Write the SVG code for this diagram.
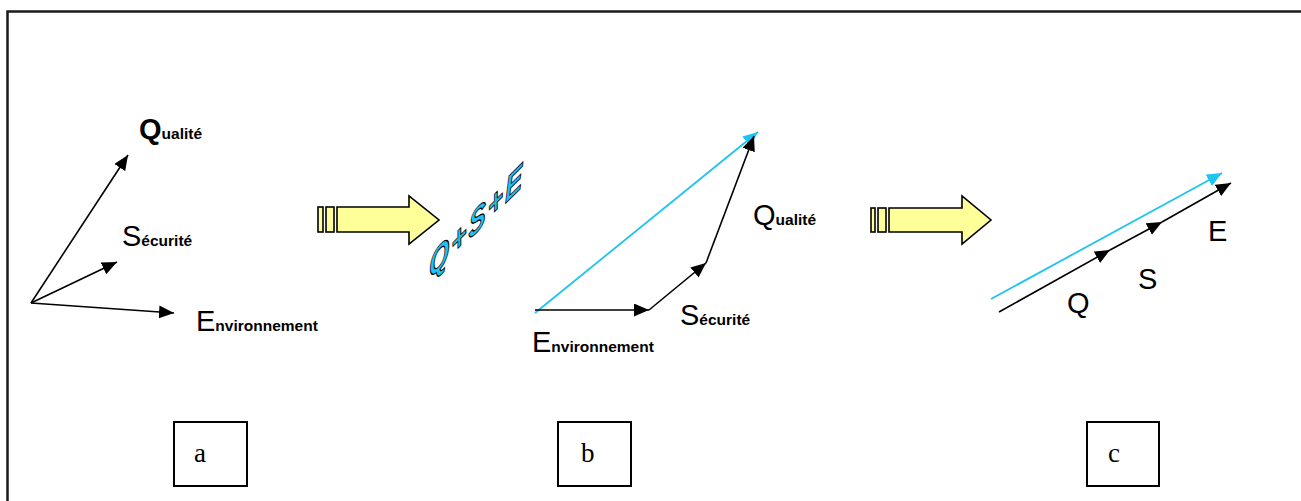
<svg xmlns="http://www.w3.org/2000/svg" width="1301" height="501" viewBox="0 0 1301 501">
<style>
.big{font-family:"Liberation Sans",Arial,sans-serif;font-size:29px;fill:#000}
.sm{font-family:"Liberation Sans",Arial,sans-serif;font-size:15.5px;font-weight:bold;fill:#000}
.lbl{font-family:"Liberation Serif","Times New Roman",serif;font-size:27px;fill:#000}
.vec{stroke:#000;stroke-width:1.6;fill:none;marker-end:url(#ah)}
.cy{stroke:#1EC3F0;stroke-width:1.8;fill:none;marker-end:url(#ahc)}
.box{fill:#fff;stroke:#000;stroke-width:2}
.ya{fill:#FFFF99;stroke:#000;stroke-width:1.6;stroke-linejoin:miter}
</style>
<defs>
<marker id="ah" markerUnits="userSpaceOnUse" markerWidth="16" markerHeight="14" refX="15" refY="6.5" orient="auto"><path d="M0,0 L15,6.5 L0,13 z" fill="#000"/></marker>
<marker id="ahc" markerUnits="userSpaceOnUse" markerWidth="16" markerHeight="14" refX="15" refY="6.5" orient="auto"><path d="M0,0 L15,6.5 L0,13 z" fill="#1EC3F0"/></marker>
</defs>
<rect x="7.5" y="11.5" width="1310" height="510" fill="#fff" stroke="#1a1a1a" stroke-width="2.5"/>
<g id="connectors">
<line class="vec" x1="31" y1="303" x2="128" y2="155"/>
<line class="vec" x1="31" y1="303" x2="117" y2="262"/>
<line class="vec" x1="31" y1="303" x2="174" y2="313"/>
<line class="cy" x1="535" y1="313" x2="758" y2="132"/>
<line class="vec" x1="535" y1="310" x2="649" y2="310"/>
<line class="vec" x1="649" y1="310" x2="706" y2="263"/>
<line class="vec" x1="706" y1="263" x2="754" y2="136"/>
<line class="cy" x1="991" y1="299" x2="1222" y2="173"/>
<line class="vec" x1="999" y1="312" x2="1110" y2="250"/>
<line class="vec" x1="1110" y1="250" x2="1162" y2="222"/>
<line class="vec" x1="1162" y1="222" x2="1231" y2="183"/>
</g>
<g id="arrow1">
<rect class="ya" x="318" y="207" width="5" height="25"/>
<rect class="ya" x="326" y="207" width="8" height="25"/>
<path class="ya" d="M337,207 L409,207 L409,196 L439,220 L409,244 L409,232 L337,232 z"/>
</g>
<g id="arrow2">
<rect class="ya" x="871" y="208" width="4" height="24"/>
<rect class="ya" x="878" y="208" width="8" height="24"/>
<path class="ya" d="M889,208 L962,208 L962,196 L991,220 L962,244 L962,232 L889,232 z"/>
</g>
<g id="qse">
<text transform="translate(429,280) skewY(-45) scale(1,1.35)" font-family="Liberation Sans,Arial,sans-serif" font-size="26" font-style="italic" font-weight="bold" fill="#1EC3F0" stroke="#000" stroke-width="0.8" letter-spacing="2">Q+S+E</text>
</g>
<g id="panel-a">
<text x="139" y="139"><tspan class="big" font-weight="bold">Q</tspan><tspan class="sm">ualité</tspan></text>
<text x="122" y="246"><tspan class="big">S</tspan><tspan class="sm">écurité</tspan></text>
<text x="196" y="331"><tspan class="big">E</tspan><tspan class="sm">nvironnement</tspan></text>
</g>
<g id="panel-b">
<text x="753" y="225"><tspan class="big">Q</tspan><tspan class="sm">ualité</tspan></text>
<text x="680" y="325"><tspan class="big">S</tspan><tspan class="sm">écurité</tspan></text>
<text x="532" y="352"><tspan class="big">E</tspan><tspan class="sm">nvironnement</tspan></text>
</g>
<g id="panel-c">
<text class="big" x="1067" y="313">Q</text>
<text class="big" x="1138" y="289">S</text>
<text class="big" x="1208" y="241">E</text>
</g>
<g id="box-a"><rect class="box" x="174" y="422" width="73" height="64"/><text class="lbl" x="194" y="462">a</text></g>
<g id="box-b"><rect class="box" x="558" y="422" width="73" height="64"/><text class="lbl" x="581" y="462">b</text></g>
<g id="box-c"><rect class="box" x="1087" y="422" width="72" height="64"/><text class="lbl" x="1108" y="462">c</text></g>
</svg>
